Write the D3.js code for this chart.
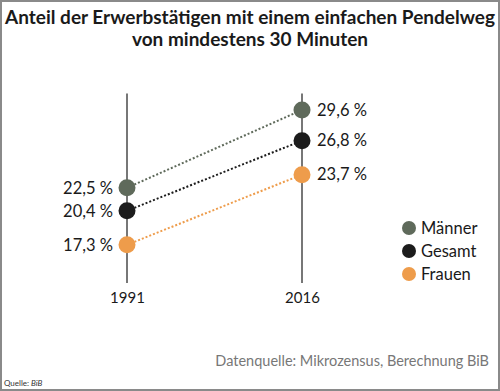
<!DOCTYPE html>
<html>
<head>
<meta charset="utf-8">
<script src="https://cdn.jsdelivr.net/npm/d3@7"></script>
<style>
  html, body { margin: 0; padding: 0; background: #fff; }
  svg { display: block; font-family: Lato, "Noto Sans", sans-serif; }
</style>
</head>
<body>
<svg id="chart" width="500" height="391"></svg>
<script>
// data
const years = ['1991', '2016'];
const series = ['Männer', 'Gesamt', 'Frauen'];
const values1991 = [22.5, 20.4, 17.3];
const values2016 = [29.6, 26.8, 23.7];
const colors = ['#5f6a5b', '#1c1c1c', '#ee9c4b'];
const titleLines = ['Anteil der Erwerbstätigen mit einem einfachen Pendelweg', 'von mindestens 30 Minuten'];

const svg = d3.select('#chart');
const fmt = v => d3.format('.1f')(v).replace('.', ',') + ' %';

// frame
svg.append('rect')
    .attr('x', 1).attr('y', 1)
    .attr('width', 498).attr('height', 389)
    .attr('fill', 'none')
    .attr('stroke', '#8a8a8a')
    .attr('stroke-width', 2);

// title
svg.append('g')
    .selectAll('text')
    .data(titleLines)
    .enter()
    .append('text')
    .attr('x', 250)
    .attr('y', (d, i) => 24 + i * 22)
    .attr('text-anchor', 'middle')
    .attr('font-size', 19)
    .attr('font-weight', 'bold')
    .attr('fill', '#1a1a1a')
    .text(d => d);

const xScale = d3.scalePoint().domain(years).range([127, 302]);
const yScale = d3.scaleLinear().domain([14, 31]).range([281, 94.6]);

// vertical axes
svg.append('g')
    .selectAll('line')
    .data(years)
    .enter()
    .append('line')
    .attr('x1', d => xScale(d)).attr('x2', d => xScale(d))
    .attr('y1', yScale(31.1)).attr('y2', 283)
    .attr('stroke', '#777')
    .attr('stroke-width', 2);

const xAxis = d3.axisBottom(xScale).tickSize(0).tickPadding(0);
const gx = svg.append('g')
    .attr('transform', 'translate(0,289)')
    .call(xAxis);
gx.select('.domain').remove();
gx.selectAll('text')
    .attr('font-size', 15)
    .attr('fill', '#1a1a1a')
    .attr('font-family', 'Lato, sans-serif')
    .attr('dy', '0.9em');

const rows = series.map((s, i) => ({name: s, v0: values1991[i], v1: values2016[i], color: colors[i]}));

// connecting dotted lines
svg.append('g')
    .selectAll('line')
    .data(rows)
    .enter()
    .append('line')
    .attr('x1', xScale('1991')).attr('x2', xScale('2016'))
    .attr('y1', d => yScale(d.v0)).attr('y2', d => yScale(d.v1))
    .attr('stroke', d => d.color)
    .attr('stroke-width', 2)
    .attr('stroke-dasharray', '2,2');

// dots
const dots = svg.append('g');
rows.forEach(d => {
    dots.append('circle')
        .attr('cx', xScale('1991')).attr('cy', yScale(d.v0))
        .attr('r', 8.5).attr('fill', d.color);
    dots.append('circle')
        .attr('cx', xScale('2016')).attr('cy', yScale(d.v1))
        .attr('r', 8.5).attr('fill', d.color);
    dots.append('text')
        .attr('x', xScale('1991') - 14).attr('y', yScale(d.v0))
        .attr('dy', '0.35em')
        .attr('text-anchor', 'end')
        .attr('font-size', 16.5)
        .attr('fill', '#1a1a1a')
        .text(fmt(d.v0));
    dots.append('text')
        .attr('x', xScale('2016') + 15).attr('y', yScale(d.v1))
        .attr('dy', '0.35em')
        .attr('font-size', 16.5)
        .attr('fill', '#1a1a1a')
        .text(fmt(d.v1));
});

// legend
const legend = svg.append('g')
    .selectAll('g')
    .data(rows)
    .enter()
    .append('g')
    .attr('transform', (d, i) => `translate(409, ${228 + i * 23})`);
legend.append('circle').attr('r', 7).attr('fill', d => d.color);
legend.append('text')
    .attr('x', 12).attr('dy', '0.35em')
    .attr('font-size', 16.5)
    .attr('fill', '#1a1a1a')
    .text(d => d.name);

// source
svg.append('text')
    .attr('x', 489).attr('y', 366)
    .attr('text-anchor', 'end')
    .attr('font-size', 14.5)
    .attr('fill', '#777')
    .text('Datenquelle: Mikrozensus, Berechnung BiB');

const q = svg.append('text')
    .attr('x', 4).attr('y', 386)
    .attr('font-size', 8)
    .attr('fill', '#333');
q.append('tspan').text('Quelle: ');
q.append('tspan').attr('font-style', 'italic').text('BiB');
</script>
</body>
</html>
